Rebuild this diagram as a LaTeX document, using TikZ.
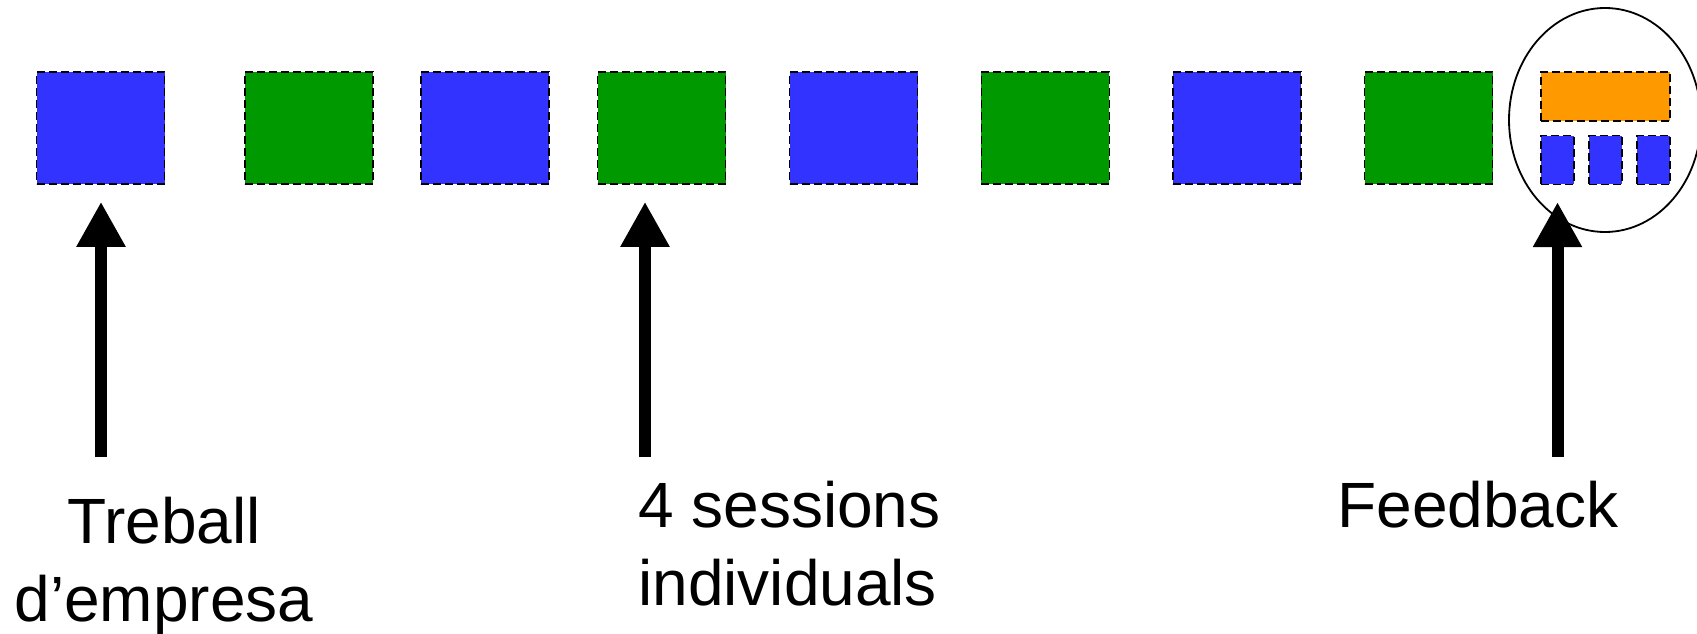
\documentclass[tikz,border=0pt]{standalone}
\usepackage{fontspec}
\setmainfont{Liberation Sans}
\usetikzlibrary{arrows.meta}
\usetikzlibrary{shapes.geometric}
\usetikzlibrary{positioning}
\definecolor{sessblue}{HTML}{3333FF}
\definecolor{sessgreen}{HTML}{009900}
\definecolor{sessorange}{HTML}{FF9900}
\tikzstyle{session}=[rectangle, draw=black, line width=1.5pt,
  dash pattern=on 8pt off 4pt, minimum width=128pt, minimum height=112pt,
  inner sep=0pt]
\tikzstyle{bsess}=[session, fill=sessblue]
\tikzstyle{gsess}=[session, fill=sessgreen]
\tikzstyle{minisess}=[session, fill=sessblue, minimum width=33pt,
  minimum height=48.6pt]
\tikzstyle{arrup}=[line width=12pt, -{Triangle[length=45pt, width=46pt]},
  shorten >=17pt]
\tikzstyle{caption}=[font=\fontsize{64}{78}\selectfont, inner sep=0pt]

\begin{document}
\begin{tikzpicture}[x=1pt, y=-1pt]
\useasboundingbox (0,0) rectangle (1697,634);

% row of sessions
\node[bsess] (s1) at (100.6,128) {};
\node[gsess, right=79pt of s1] (s2) {};
\node[bsess, right=46.5pt of s2] (s3) {};
\node[gsess, right=47pt of s3] (s4) {};
\node[bsess, right=62.5pt of s4] (s5) {};
\node[gsess, right=62.3pt of s5] (s6) {};
\node[bsess, right=62.3pt of s6] (s7) {};
\node[gsess, right=62pt of s7] (s8) {};

% feedback group
\node[session, fill=sessorange, minimum width=129.3pt, minimum height=48.7pt]
  (fbtop) at (1605.4,96.4) {};
\node[minisess] (fb1) at (1557.3,160) {};
\node[minisess] (fb2) at (1605.4,160) {};
\node[minisess] (fb3) at (1653.4,160) {};
\node[ellipse, draw, line width=1.8pt, minimum width=192pt,
  minimum height=224pt, inner sep=0pt] (ring) at (1605,120) {};

\coordinate (t1) at (101,457);
\coordinate (t2) at (645,457);
\coordinate (t3) at (1557.5,457);
\draw[arrup] (t1) -- (t1 |- s1.south);
\draw[arrup] (t2) -- (t2 |- s4.south);
\draw[arrup] (t3) -- (t3 |- fb1.south);

\node[caption, anchor=base, align=center] (lbl1) at (164,621)
  {Treball\\d’empresa};
\node[caption, anchor=base west, align=left] (lbl2) at (638,605)
  {4 sessions\\individuals};
\node[caption, anchor=base] (lbl3) at (1478,527) {Feedback};

\end{tikzpicture}
\end{document}
